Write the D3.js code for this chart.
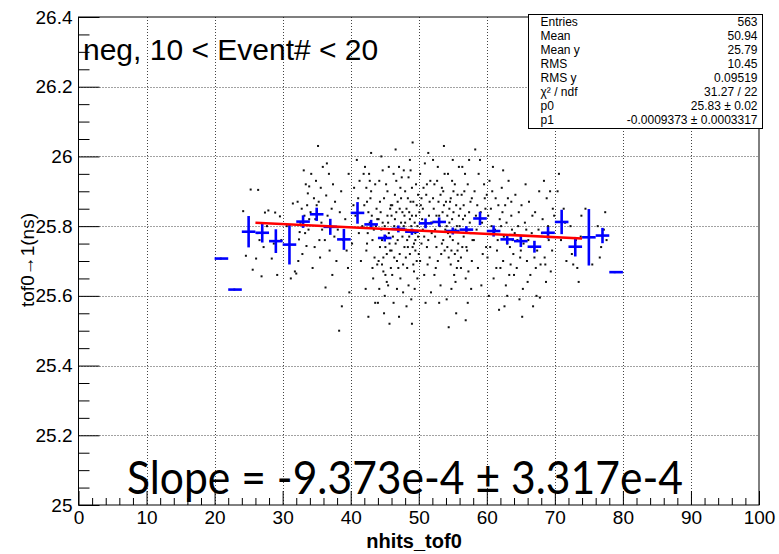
<!DOCTYPE html>
<html><head><meta charset="utf-8">
<script src="https://cdn.jsdelivr.net/npm/d3@7"></script>
<style>body{margin:0;background:#fff}svg{display:block}</style>
</head><body>
<script>
// ---- data ----
const xDomain = [0, 100];
const yDomain = [25, 26.4];
const xTickValues = [0, 10, 20, 30, 40, 50, 60, 70, 80, 90, 100];
const yTickValues = [25, 25.2, 25.4, 25.6, 25.8, 26, 26.2, 26.4];

// profile (bin centre, mean, error)
const profX = [21, 23, 25, 27, 29, 31, 33, 35, 37, 39, 41, 43, 45, 47, 49, 51, 53, 55, 57, 59, 61, 63, 65, 67, 69, 71, 73, 75, 77, 79];
const profY = [25.707, 25.618, 25.784, 25.781, 25.757, 25.747, 25.813, 25.834, 25.798, 25.762, 25.838, 25.805, 25.766, 25.792, 25.784, 25.808, 25.812, 25.786, 25.79, 25.822, 25.786, 25.762, 25.757, 25.741, 25.781, 25.812, 25.741, 25.768, 25.773, 25.668];
const profErr = [0, 0, 0.045, 0.028, 0.034, 0.057, 0.018, 0.019, 0.023, 0.03, 0.031, 0.013, 0.01, 0.01, 0.009, 0.014, 0.013, 0.01, 0.01, 0.019, 0.016, 0.014, 0.017, 0.017, 0.017, 0.035, 0.028, 0.081, 0.022, 0];
const binWidth = 2;

// linear fit
const p0 = 25.834, p0Err = 0.02;
const p1 = -0.0009373, p1Err = 0.0003317;
const fitRange = [26, 74];
const chi2 = 31.27, ndf = 22;

// scatter entries [nhits_tof0, tof0->1]
const dots = [
  [20.9,25.707],[22.9,25.618],
  [24.2,25.843],[24.6,25.715],[25.3,25.905],[25.6,25.675],
  [26.4,25.904],[27.4,25.839],[26.1,25.707],[26.9,25.656],[27.7,25.80],[26.6,25.76],[27.2,25.74],[27.9,25.845],[26.3,25.78],
  [28.9,25.839],[29.6,25.828],[28.4,25.707],[29.2,25.66],[28.7,25.75],[29.8,25.76],
  [31.5,25.865],[31.2,25.65],[30.6,25.80],[31.8,25.67],
  [33.4,25.92],[33.9,25.914],[33.7,25.894],[32.5,25.783],[32.4,25.762],[33.5,25.743],[32.0,25.664],[33.1,25.96],[32.8,25.85],[33.2,25.83],[32.6,25.81],[33.8,25.79],[32.2,25.87],[33.6,25.86],[32.9,25.72],[33.3,25.78],[32.3,25.70],[33.9,25.82],
  [34.2,25.95],[34.6,25.88],[35.2,26.03],[35.0,25.86],[34.4,25.68],[35.6,25.91],[35.8,25.79],[34.8,25.82],[35.4,25.76],[34.1,25.84],[35.9,25.97],[34.7,25.74],[35.3,25.87],[35.7,25.81],[34.9,25.93],[35.5,25.71],
  [36.4,25.888],[36.3,25.624],[36.8,25.95],[37.2,25.85],[37.6,25.77],[36.6,25.83],[37.9,25.70],[37.4,25.92],[36.2,25.76],[37.0,25.80],[37.7,25.87],[36.9,25.73],[37.3,25.66],[36.5,25.98],
  [38.3,25.50],[38.6,25.90],[39.2,25.82],[39.6,25.68],[38.9,25.76],[39.8,25.61],[38.4,25.84],[39.4,25.73],[38.1,25.79],[39.7,25.95],[38.7,25.57],
  [40.9,25.99],[41.3,25.93],[40.4,25.86],[41.7,25.80],[40.2,25.75],[41.1,25.88],[41.5,25.70],[40.7,25.83],[41.9,25.95],[40.5,25.91],[41.2,25.78],
  [42.1,25.97],[42.4,25.87],[42.8,25.81],[43.2,25.76],[43.6,25.92],[43.9,25.69],[42.3,25.73],[42.6,25.84],[43.0,25.90],[43.4,25.79],[43.8,25.85],[42.2,25.62],[42.7,25.95],[43.1,25.83],[43.5,25.71],[42.5,25.78],[42.9,25.88],[43.3,25.65],[43.7,25.80],[42.0,25.86],[43.0,26.01],[42.4,25.75],[43.6,25.58],[42.8,25.93],[43.9,25.82],[42.3,25.91],[43.2,25.68],[42.6,25.54],
  [44.1,25.82],[44.3,25.74],[44.6,25.69],[44.9,25.88],[45.2,25.77],[45.5,25.63],[45.8,25.85],[44.2,25.93],[44.5,25.79],[44.8,25.71],[45.1,25.66],[45.4,25.90],[45.7,25.75],[44.0,25.58],[44.4,25.84],[44.7,25.96],[45.0,25.80],[45.3,25.72],[45.6,25.97],[45.9,25.68],[44.2,25.62],[44.6,25.76],[45.0,25.60],[45.4,25.83],[45.8,25.73],[44.3,25.87],[44.9,25.55],[45.2,25.92],[45.6,25.78],[44.1,25.70],[44.7,25.81],[45.3,25.64],[45.9,25.86],[44.5,26.00],[45.1,25.74],[45.7,25.52],[44.8,25.67],[45.5,25.81],
  [46.1,25.86],[46.4,25.71],[46.7,25.93],[47.0,25.79],[47.3,25.65],[47.6,25.84],[47.9,25.74],[46.2,25.77],[46.5,25.89],[46.8,25.62],[47.1,25.97],[47.4,25.81],[47.7,25.69],[46.0,25.83],[46.3,25.58],[46.6,25.75],[46.9,25.87],[47.2,25.72],[47.5,25.94],[47.8,25.80],[46.1,25.66],[46.5,25.82],[46.9,25.76],[47.3,25.91],[47.7,25.61],[46.3,25.95],[46.8,25.70],[47.2,25.85],[47.6,25.77],[46.0,25.73],[46.6,26.02],[47.0,25.68],[47.4,25.88],[47.9,25.83],[46.4,25.80],[47.1,25.54],[47.8,25.96],[46.7,25.84],
  [48.1,25.79],[48.4,25.88],[48.7,25.72],[49.0,25.83],[49.3,25.67],[49.6,25.92],[49.9,25.77],[48.2,25.85],[48.5,25.63],[48.8,25.96],[49.1,25.74],[49.4,25.81],[49.7,25.70],[48.0,25.90],[48.3,25.76],[48.6,25.84],[48.9,25.59],[49.2,25.87],[49.5,25.78],[49.8,25.65],[48.1,25.71],[48.5,25.94],[48.9,25.80],[49.3,25.75],[49.7,25.86],[48.3,25.68],[48.7,25.82],[49.1,26.04],[49.5,25.73],[49.9,25.89],[48.2,25.57],[48.6,25.77],[49.0,25.91],[49.4,25.62],[49.8,25.80],[48.4,25.74],[48.8,25.87],[49.2,25.69],[49.6,25.83],[48.0,25.81],[49.0,25.52],[48.7,25.99],[49.5,25.76],
  [50.1,25.84],[50.4,25.75],[50.7,25.91],[51.0,25.80],[51.3,25.69],[51.6,25.87],[51.9,25.78],[50.2,25.95],[50.5,25.82],[50.8,25.66],[51.1,25.89],[51.4,25.76],[51.7,25.93],[50.0,25.72],[50.3,25.86],[50.6,25.79],[50.9,25.98],[51.2,25.74],[51.5,25.83],[51.8,25.61],[50.4,25.88],[50.8,25.77],[51.2,25.92],[51.6,25.71],[50.6,25.85],[51.0,25.58],[51.4,26.01],[51.8,25.81],[50.2,25.70],
  [52.1,25.88],[52.4,25.77],[52.7,25.93],[53.0,25.83],[53.3,25.72],[53.6,25.90],[53.9,25.79],[52.2,25.85],[52.5,25.68],[52.8,25.97],[53.1,25.80],[53.4,25.75],[53.7,25.86],[52.0,25.81],[52.3,25.92],[52.6,25.74],[52.9,25.87],[53.2,25.63],[53.5,25.84],[53.8,25.95],[52.4,25.79],[52.8,25.70],[53.2,25.89],[53.6,25.76],[52.1,25.99],[52.6,25.83],[53.0,25.58],[53.4,25.91],[53.8,25.73],[52.3,25.66],[53.7,26.03],
  [54.1,25.80],[54.4,25.71],[54.7,25.88],[55.0,25.76],[55.3,25.92],[55.6,25.68],[55.9,25.83],[54.2,25.74],[54.5,25.85],[54.8,25.62],[55.1,25.90],[55.4,25.79],[55.7,25.73],[54.0,25.87],[54.3,25.95],[54.6,25.77],[54.9,25.82],[55.2,25.66],[55.5,25.86],[55.8,25.75],[54.1,25.59],[54.5,25.81],[54.9,25.93],[55.3,25.72],[55.7,25.89],[54.3,25.78],[54.7,25.69],[55.1,25.84],[55.5,25.55],[55.9,25.97],[54.2,25.83],[54.8,25.73],[55.4,25.64],[55.0,25.99],[54.6,25.87],[55.6,25.80],[54.4,25.51],[55.8,25.70],
  [56.1,25.85],[56.4,25.74],[56.7,25.90],[57.0,25.79],[57.3,25.67],[57.6,25.87],[57.9,25.76],[56.2,25.71],[56.5,25.82],[56.8,25.95],[57.1,25.73],[57.4,25.84],[57.7,25.62],[56.0,25.80],[56.3,25.89],[56.6,25.77],[56.9,25.65],[57.2,25.92],[57.5,25.81],[57.8,25.70],[56.4,25.97],[56.8,25.83],[57.2,25.58],[57.6,25.78],[56.2,25.68],[56.6,25.86],[57.0,25.74],[57.4,25.99],[57.8,25.88],[56.9,25.53],
  [58.2,25.90],[58.5,25.79],[58.8,25.95],[59.1,25.84],[59.4,25.72],[59.7,25.88],[58.1,25.76],[58.4,25.83],[58.7,25.68],[59.0,25.99],[59.3,25.81],[59.6,25.92],[59.9,25.74],[58.6,25.86],[59.2,25.63],[59.8,25.85],[58.3,26.02],
  [60.2,25.83],[60.5,25.74],[60.8,25.90],[61.1,25.78],[61.4,25.68],[61.7,25.86],[60.1,25.71],[60.4,25.93],[60.7,25.80],[61.0,25.65],[61.3,25.88],[61.6,25.76],[61.9,25.82],[60.3,25.60],[60.9,25.97],[61.5,25.73],[60.6,25.85],[61.2,25.79],[61.8,25.56],[60.0,25.89],
  [62.1,25.80],[62.4,25.70],[62.7,25.86],[63.0,25.75],[63.3,25.66],[63.6,25.83],[63.9,25.72],[62.2,25.91],[62.5,25.77],[62.8,25.63],[63.1,25.88],[63.4,25.74],[63.7,25.79],[62.0,25.68],[62.3,25.84],[62.6,25.57],[62.9,25.81],[63.2,25.93],[63.5,25.69],[63.8,25.76],[62.4,25.96],[63.0,25.60],[63.6,25.87],
  [64.1,25.78],[64.4,25.68],[64.7,25.84],[65.0,25.73],[65.3,25.62],[65.6,25.81],[65.9,25.70],[64.2,25.89],[64.5,25.76],[64.8,25.59],[65.1,25.86],[65.4,25.75],[65.7,25.92],[64.0,25.66],[64.6,25.80],[65.2,25.54],[65.8,25.79],[64.9,25.71],
  [66.1,25.76],[66.4,25.66],[66.7,25.83],[67.0,25.71],[67.3,25.60],[67.6,25.79],[67.9,25.69],[66.2,25.87],[66.5,25.74],[66.8,25.57],[67.1,25.84],[67.4,25.73],[67.7,25.90],[66.0,25.64],[66.6,25.78],[67.2,25.68],[67.8,25.595],
  [68.2,25.82],[68.5,25.71],[68.8,25.88],[69.1,25.76],[69.4,25.67],[69.7,25.85],[68.1,25.78],[68.4,25.93],[68.7,25.64],[69.0,25.80],[69.3,25.90],[69.6,25.73],[69.9,25.83],[68.6,25.69],
  [70.4,25.90],[70.9,25.76],[71.3,25.85],[71.7,25.70],[70.6,25.95],[71.5,25.81],
  [72.3,25.80],[72.7,25.69],[73.1,25.76],[73.5,25.64],[73.9,25.83],[72.5,25.72],[73.3,25.68],[73.8,25.77],
  [74.5,25.85],[75.5,25.69],
  [76.3,25.80],[76.8,25.74],[77.2,25.79],[77.6,25.76],[76.6,25.71],[77.4,25.84],
  [78.8,25.668]
];

// statistics box
const statLabels = ["Entries", "Mean", "Mean y", "RMS", "RMS y", "χ² / ndf", "p0", "p1"];
const statValues = ["563", "50.94", "25.79", "10.45", "0.09519",
  `${chi2} / ${ndf}`, `${p0.toFixed(2)} ± ${p0Err.toFixed(2)}`, `${p1} ± ${p1Err}`];

const title = "neg, 10 < Event# < 20";
const xTitle = "nhits_tof0";
const yTitle = "tof0→1(ns)";

// ---- drawing ----
const W = 779, H = 554;
const plot = {left: 78.5, right: 759, top: 17, bottom: 505};
const font = "'Liberation Sans', Arial, sans-serif";

const svg = d3.select("body").append("svg").attr("width", W).attr("height", H)
  .style("font-family", font);

const x = d3.scaleLinear().domain(xDomain).range([plot.left, plot.right]);
const y = d3.scaleLinear().domain(yDomain).range([plot.bottom, plot.top]);

// dotted grid
const grid = svg.append("g").attr("stroke", "#444").attr("stroke-width", 1).attr("stroke-dasharray", "1,2");
grid.selectAll("line.gx").data(xTickValues.slice(1, -1)).join("line")
  .attr("x1", d => Math.round(x(d)) + 0.5).attr("x2", d => Math.round(x(d)) + 0.5)
  .attr("y1", plot.top).attr("y2", plot.bottom);
grid.selectAll("line.gy").data(yTickValues.slice(1, -1)).join("line")
  .attr("y1", d => Math.round(y(d)) + 0.5).attr("y2", d => Math.round(y(d)) + 0.5)
  .attr("x1", plot.left).attr("x2", plot.right);

// scatter dots
svg.append("g").selectAll("rect").data(dots).join("rect")
  .attr("x", d => x(d[0]) - 1).attr("y", d => y(d[1]) - 1)
  .attr("width", 2).attr("height", 2).attr("fill", "#111");

// profile crosses
const prof = svg.append("g").attr("stroke", "#0000ff").attr("stroke-width", 2.6);
profX.forEach((px, i) => {
  prof.append("line").attr("x1", x(px - binWidth / 2)).attr("x2", x(px + binWidth / 2))
    .attr("y1", y(profY[i])).attr("y2", y(profY[i]));
  if (profErr[i] > 0)
    prof.append("line").attr("x1", x(px)).attr("x2", x(px))
      .attr("y1", y(profY[i] - profErr[i])).attr("y2", y(profY[i] + profErr[i]));
});

// fit line
const fitLine = d3.line().x(d => x(d)).y(d => y(p0 + p1 * d));
svg.append("path").datum(fitRange).attr("d", fitLine)
  .attr("stroke", "#ff0000").attr("stroke-width", 2.6).attr("fill", "none");

// frame
svg.append("rect").attr("x", plot.left).attr("y", plot.top)
  .attr("width", plot.right - plot.left).attr("height", plot.bottom - plot.top)
  .attr("fill", "none").attr("stroke", "#000").attr("stroke-width", 1);

// x axis: major every 10, minor every 2
const xAxis = d3.axisBottom(x).tickValues(xTickValues).tickSize(-14).tickPadding(6).tickFormat(d3.format("d"));
const gx = svg.append("g").attr("transform", `translate(0,${plot.bottom})`).call(xAxis);
gx.select(".domain").remove();
gx.selectAll("text").attr("font-size", 19).attr("fill", "#000").attr("font-family", font);
svg.append("g").attr("transform", `translate(0,${plot.bottom})`)
  .call(d3.axisBottom(x).tickValues(d3.range(0, 101, 2).filter(v => v % 10)).tickSize(-7).tickFormat(""))
  .select(".domain").remove();

// y axis: major every 0.2, minor every 0.05
const yAxis = d3.axisLeft(y).tickValues(yTickValues).tickSize(-21).tickPadding(6).tickFormat(d3.format("~g"));
const gy = svg.append("g").attr("transform", `translate(${plot.left},0)`).call(yAxis);
gy.select(".domain").remove();
gy.selectAll("text").attr("font-size", 19).attr("fill", "#000").attr("font-family", font);
svg.append("g").attr("transform", `translate(${plot.left},0)`)
  .call(d3.axisLeft(y).tickValues(d3.range(0, 29).map(k => 25 + k * 0.05).filter((v, k) => k % 4)).tickSize(-11).tickFormat(""))
  .select(".domain").remove();
svg.selectAll(".tick line").attr("stroke", "#000");

// axis titles
svg.append("text").attr("x", 414).attr("y", 548).attr("text-anchor", "middle")
  .attr("font-size", 20).attr("font-weight", "bold").text(xTitle);
svg.append("text").attr("transform", "translate(34,260) rotate(-90)").attr("text-anchor", "middle")
  .attr("font-size", 19).text(yTitle);

// title
svg.append("text").attr("x", 83).attr("y", 60).attr("font-size", 30).text(title);

// statistics box
const box = {x: 528.5, y: 14.5, w: 234, h: 114};
svg.append("rect").attr("x", box.x).attr("y", box.y).attr("width", box.w).attr("height", box.h)
  .attr("fill", "#fff").attr("stroke", "#000").attr("stroke-width", 1);
statLabels.forEach((lab, i) => {
  const ty = box.y + 11 + i * 14;
  svg.append("text").attr("x", box.x + 12).attr("y", ty).attr("font-size", 12).text(lab);
  svg.append("text").attr("x", box.x + box.w - 5).attr("y", ty).attr("font-size", 12)
    .attr("text-anchor", "end").text(statValues[i]);
});

// slope annotation
const fmtExp = v => { const [m, e] = v.toExponential(3).split("e"); return `${m}e${+e}`; };
svg.append("text").attr("x", 127).attr("y", 494)
  .attr("font-family", "Lato, 'Open Sans', sans-serif").attr("font-size", 47)
  .attr("textLength", 556).attr("lengthAdjust", "spacingAndGlyphs")
  .text(`Slope = ${fmtExp(p1)} ± ${fmtExp(p1Err)}`);
</script>
</body></html>
